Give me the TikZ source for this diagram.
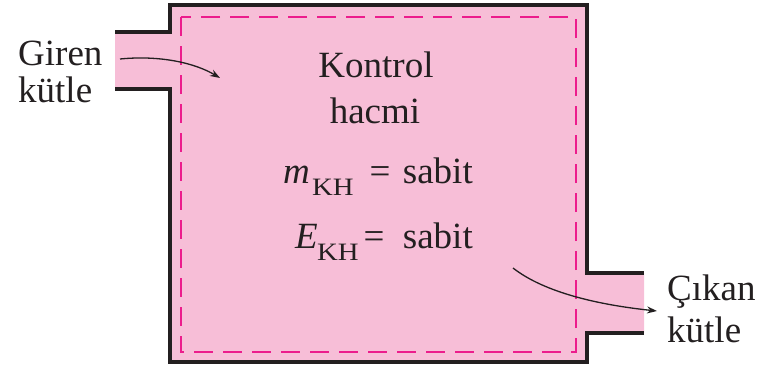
\documentclass[tikz,border=0pt]{standalone}
\usepackage{fontspec}
\setmainfont{Liberation Serif}
\usetikzlibrary{arrows.meta}
\definecolor{cvpink}{HTML}{F7BED7}
\definecolor{cvdash}{HTML}{EC1C8C}
\definecolor{cvink}{HTML}{231F20}
\tikzset{
  wall/.style={draw=cvink, line width=3.8pt, line join=miter},
  cvline/.style={draw=cvdash, line width=1.9pt, dash pattern=on 19pt off 10pt},
  flow/.style={draw=cvink, line width=1.3pt, -{Stealth[length=10pt,width=7pt]}},
  lbl/.style={inner sep=0pt, text=cvink, font=\fontsize{37}{40}\selectfont},
  sublbl/.style={inner sep=0pt, text=cvink, font=\fontsize{25}{27}\selectfont},
}
\begin{document}
\begin{tikzpicture}[x=1pt,y=-1pt]
\useasboundingbox (0,0) rectangle (769,368);
% fill
\fill[cvpink] (115,32) -- (170,32) -- (170,5) -- (587,5) -- (587,273) -- (644,273)
  -- (644,333) -- (587,333) -- (587,362) -- (170,362) -- (170,89) -- (115,89) -- cycle;
% walls
\draw[wall] (115,32) -- (170,32) -- (170,5) -- (587,5) -- (587,273) -- (644,273);
\draw[wall] (644,333) -- (587,333) -- (587,362) -- (170,362) -- (170,89) -- (115,89);
% control surface
\draw[cvline] (181,17) rectangle (576,352);
% labels
\node[lbl, anchor=base west] (giren) at (18,65) {Giren};
\node[lbl, anchor=base west] (kutle1) at (18,102) {kütle};
\node[lbl, anchor=base west] (cikan) at (667,300) {Çıkan};
\node[lbl, anchor=base west] (kutle2) at (667,342) {kütle};
\node[lbl, anchor=base] (kontrol) at (376,77) {Kontrol};
\node[lbl, anchor=base] (hacmi) at (375,123) {hacmi};
% m_KH = sabit
\node[lbl, anchor=base west] (msym) at (283,183) {\textit{m}};
\node[sublbl, anchor=base west] (msub) at (312,195) {\scalebox{1.15}[1]{KH}};
\node[lbl, anchor=base] (meq) at (380,183) {=};
\node[lbl, anchor=base east] (mval) at (473,183) {sabit};
% E_KH = sabit
\node[lbl, anchor=base west] (esym) at (295,248) {\textit{E}};
\node[sublbl, anchor=base west] (esub) at (317,260) {\scalebox{1.15}[1]{KH}};
\node[lbl, anchor=base] (eeq) at (374,248) {=};
\node[lbl, anchor=base east] (eval) at (473,248) {sabit};
% flow arrows
\coordinate (inA) at (120,59);
\coordinate (inB) at (220,78);
\coordinate (outA) at (513,268);
\coordinate (outB) at (657,311);
\draw[flow] (inA) .. controls (160,55) and (195,63) .. (inB);
\draw[flow] (outA) .. controls (545,293) and (600,305) .. (outB);
\end{tikzpicture}
\end{document}
